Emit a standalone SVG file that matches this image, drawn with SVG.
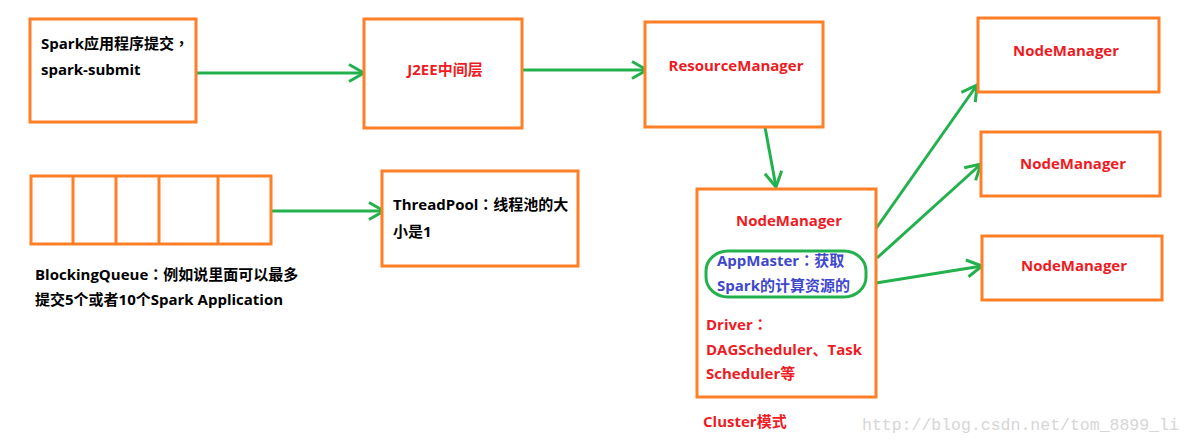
<svg xmlns="http://www.w3.org/2000/svg" width="1192" height="444" viewBox="0 0 1192 444">
<defs>
<style>
.box{fill:#fff;stroke:#FF7F27;stroke-width:3}
.con{fill:none;stroke:#22B14C;stroke-width:3}
.t{font-family:"Open Sans","Noto Sans CJK SC",sans-serif;font-size:15px;font-weight:bold}
.p{font-family:"Noto Sans CJK TC",sans-serif}
.k{fill:#000}
.r{fill:#ED1C24}
.b{fill:#3F48CC}
.wm{font-family:"Liberation Mono",monospace;font-size:16.5px;fill:#d6d6d6}
</style>
<marker id="ah" markerUnits="userSpaceOnUse" markerWidth="24" markerHeight="24" viewBox="-18 -12 24 24" refX="0" refY="0" orient="auto">
<path d="M-15,-8.5 L0,0 L-15,8.5" fill="none" stroke="#22B14C" stroke-width="3"/>
</marker>
</defs>
<rect width="1192" height="444" fill="#fff"/>
<g id="connectors">
<line class="con" x1="196" y1="73" x2="364" y2="73" marker-end="url(#ah)"/>
<line class="con" x1="522" y1="70" x2="647" y2="70" marker-end="url(#ah)"/>
<line class="con" x1="765" y1="127" x2="776" y2="187" marker-end="url(#ah)"/>
<line class="con" x1="271" y1="211" x2="384" y2="211" marker-end="url(#ah)"/>
<line class="con" x1="875" y1="230" x2="977" y2="85" marker-end="url(#ah)"/>
<line class="con" x1="877" y1="258" x2="981" y2="164" marker-end="url(#ah)"/>
<line class="con" x1="876" y1="283" x2="982" y2="266" marker-end="url(#ah)"/>
</g>
<g id="submit">
<rect class="box" x="30" y="19" width="166" height="103"/>
<text class="t k" x="41" y="49">Spark应用程序提交<tspan class="p">，</tspan></text>
<text class="t k" x="41" y="75">spark-submit</text>
</g>
<g id="j2ee">
<rect class="box" x="364" y="19" width="158" height="109"/>
<text class="t r" x="445" y="75" text-anchor="middle">J2EE中间层</text>
</g>
<g id="resourcemanager">
<rect class="box" x="645" y="22" width="178" height="105"/>
<text class="t r" x="736" y="71" text-anchor="middle">ResourceManager</text>
</g>
<g id="queue">
<rect class="box" x="31" y="176" width="240" height="68"/>
<line class="box" x1="73" y1="176" x2="73" y2="244"/>
<line class="box" x1="116" y1="176" x2="116" y2="244"/>
<line class="box" x1="159" y1="176" x2="159" y2="244"/>
<line class="box" x1="218" y1="176" x2="218" y2="244"/>
<text class="t k" x="35" y="280">BlockingQueue<tspan class="p">：</tspan>例如说里面可以最多</text>
<text class="t k" x="35" y="305">提交5个或者10个Spark Application</text>
</g>
<g id="threadpool">
<rect class="box" x="382" y="171" width="196" height="95"/>
<text class="t k" x="393" y="210">ThreadPool<tspan class="p">：</tspan>线程池的大</text>
<text class="t k" x="393" y="237">小是1</text>
</g>
<g id="nodemanager-main">
<rect class="box" x="697" y="189" width="179" height="208"/>
<text class="t r" x="789" y="226" text-anchor="middle">NodeManager</text>
<rect x="706" y="251" width="160" height="46" rx="22" ry="20" fill="none" stroke="#22B14C" stroke-width="3"/>
<text class="t b" x="717" y="266">AppMaster<tspan class="p">：</tspan>获取</text>
<text class="t b" x="717" y="291">Spark的计算资源的</text>
<text class="t r" x="706" y="330">Driver<tspan class="p">：</tspan></text>
<text class="t r" x="706" y="355">DAGScheduler、Task</text>
<text class="t r" x="706" y="379">Scheduler等</text>
</g>
<g id="cluster-label">
<text class="t r" x="703" y="427">Cluster模式</text>
</g>
<g id="nodemanager-1">
<rect class="box" x="978" y="18" width="181" height="74"/>
<text class="t r" x="1066" y="56" text-anchor="middle">NodeManager</text>
</g>
<g id="nodemanager-2">
<rect class="box" x="981" y="132" width="179" height="64"/>
<text class="t r" x="1073" y="169" text-anchor="middle">NodeManager</text>
</g>
<g id="nodemanager-3">
<rect class="box" x="982" y="236" width="180" height="64"/>
<text class="t r" x="1074" y="271" text-anchor="middle">NodeManager</text>
</g>
<g id="watermark">
<text class="wm" x="862" y="430">http://blog.csdn.net/tom_8899_li</text>
</g>
</svg>
